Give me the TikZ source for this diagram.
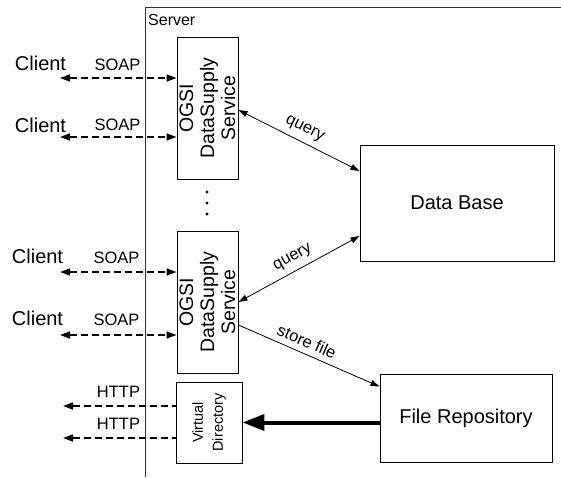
\documentclass[tikz,border=0pt]{standalone}
\usepackage{fontspec}
\setmainfont{Liberation Sans}
\usetikzlibrary{arrows.meta,calc}
\begin{document}
\begin{tikzpicture}[x=1pt,y=-1pt,
  fs/.style={font=\fontsize{#1}{#1}\selectfont},
  box/.style={draw,line width=0.9pt,inner sep=0pt},
  rbox/.style={box,rotate=90,align=center},
  lbl/.style={inner sep=0pt},
  soap/.style={line width=1.6pt,dash pattern=on 7pt off 4pt,{Triangle[length=10pt,width=7pt]}-{Triangle[length=10pt,width=7pt]}},
  http/.style={line width=1.6pt,dash pattern=on 7pt off 4pt,{Triangle[length=10pt,width=7pt]}-},
  thin/.style={line width=0.8pt},
  thick arrow/.style={line width=4pt,-{Triangle[length=22pt,width=16pt]}}
]
\useasboundingbox (0,0) rectangle (561,477);
% server frame
\draw[line width=0.9pt,black!80] (145,477) -- (145,7) -- (561,7);
\node[lbl,fs=16,anchor=west] (server) at (148,20) {Server};

% services
\node[rbox,minimum width=142,minimum height=61,fs=19.5,
      execute at begin node={\baselineskip=21pt}] (svc1) at (207.5,108) {OGSI\\DataSupply\\Service};
\node[rbox,minimum width=142,minimum height=61,fs=19.5,
      execute at begin node={\baselineskip=21pt}] (svc2) at (207.5,302) {OGSI\\DataSupply\\Service};
\node[rbox,minimum width=81,minimum height=66,fs=14.5,
      execute at begin node={\baselineskip=20pt}] (vdir) at (209,422.5) {Virtual\\Directory};

% dots
\fill (207,192) circle (1.6) (207,203) circle (1.6) (207,214) circle (1.6);

% right boxes
\node[box,minimum width=194,minimum height=116,fs=20] (db) at (457,203) {Data Base};
\node[box,minimum width=172,minimum height=88,fs=20] (frep) at (466,418) {File Repository};

% clients
\node[lbl,fs=20] (cl1) at (40.5,63) {Client};
\node[lbl,fs=20] (cl2) at (40.5,125) {Client};
\node[lbl,fs=20] (cl3) at (37.5,256) {Client};
\node[lbl,fs=20] (cl4) at (37.5,318) {Client};
\node[lbl,fs=16.5] (s1) at (117.5,65) {SOAP};
\node[lbl,fs=16.5] (s2) at (117.5,125) {SOAP};
\node[lbl,fs=16.5] (s3) at (116.5,258) {SOAP};
\node[lbl,fs=16.5] (s4) at (116.5,320) {SOAP};
\node[lbl,fs=16.5] (h1) at (118.5,392) {HTTP};
\node[lbl,fs=16.5] (h2) at (118.5,424) {HTTP};

\coordinate (a1) at (60,78);
\coordinate (a2) at (60,137);
\coordinate (a3) at (60,272);
\coordinate (a4) at (60,335);
\coordinate (b1) at (63,406);
\coordinate (b2) at (63,438);

\draw[soap] (a1) -- (a1 -| svc1.north);
\draw[soap] (a2) -- (a2 -| svc1.north);
\draw[soap] (a3) -- (a3 -| svc2.north);
\draw[soap] (a4) -- (a4 -| svc2.north);
\draw[http] (b1) -- (b1 -| vdir.north);
\draw[http] (b2) -- (b2 -| vdir.north);

% queries
\draw[thin,{Triangle[length=9pt,width=6pt]}-{Triangle[length=9pt,width=6pt]}]
  ($(svc1.south)+(0,2)$) -- node[lbl,fs=16.5,sloped,above=6pt] (q1) {query} ($(db.west)+(0,-32)$);
\draw[thin,{Triangle[length=9pt,width=6pt]}-{Triangle[length=9pt,width=6pt]}]
  (svc2.south) -- node[lbl,fs=16.5,sloped,above=6pt] (q2) {query} ($(db.west)+(0,33)$);
\draw[thin,-{Triangle[length=9pt,width=6pt]}]
  ($(svc2.south)+(0,23)$) -- node[lbl,fs=16.5,sloped,above=6pt,pos=0.45] (sf) {store file} ($(frep.north west)+(0,13)$);

% thick arrow
\draw[thick arrow] (frep.west |- vdir.south) -- (vdir.south);
\end{tikzpicture}
\end{document}
